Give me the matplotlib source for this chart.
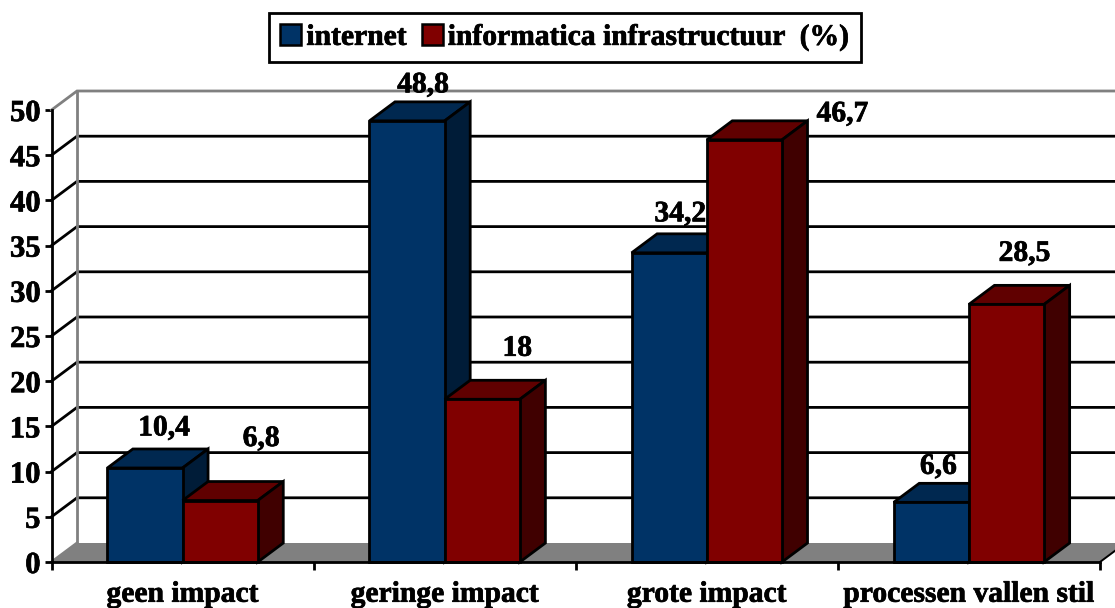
import matplotlib
matplotlib.use("Agg")
import matplotlib.pyplot as plt
from matplotlib.patches import Polygon, Patch
import matplotlib.patheffects as pe
import numpy as np

categories = ["geen impact", "geringe impact", "grote impact", "processen vallen stil"]
internet = [10.4, 48.8, 34.2, 6.6]
informatica = [6.8, 18, 46.7, 28.5]
internet_labels = ["10,4", "48,8", "34,2", "6,6"]
informatica_labels = ["6,8", "18", "46,7", "28,5"]
series_names = ["internet", "informatica infrastructuur  (%)"]
y_ticks = list(range(0, 51, 5))

# label offsets from the bar's top centre, in pixels
internet_off = [(19, 40), (16, 36), (11, 39), (7, 36)]
informatica_off = [(41, 62), (35, 51), (98, 26), (18, 51)]

W, H = 1115, 608
FS = 21.3
plt.rcParams["font.family"] = ["Liberation Serif", "DejaVu Serif"]
plt.rcParams["font.weight"] = "bold"
fig = plt.figure(figsize=(W / 100, H / 100), dpi=100, facecolor="white")
L, R, T, B = 51.5, 1100, 110, 562
ax = fig.add_axes([L / W, 1 - B / H, (R - L) / W, (B - T) / H])
ax.set_xlim(0, 4)
ax.set_ylim(0, 50)
ax.patch.set_visible(False)

dx = 25.5 / ((R - L) / 4)
dy = 19 / ((B - T) / 50)
xedge = 4.2
GRAY = "#808080"
LW = 2.0
heavy = [pe.withStroke(linewidth=0.5, foreground="black")]

# floor
ax.add_patch(Polygon([(0, 0), (dx, dy), (4 + dx, dy), (4, 0)], closed=True, fc=GRAY, ec="none", zorder=1, clip_on=False))
ax.plot([0, dx], [0, dy], color=GRAY, lw=LW, zorder=1.5, clip_on=False)
ax.plot([4, 4 + dx], [0, dy], color="black", lw=1.4, zorder=1.5, clip_on=False)

# walls and gridlines
for v in y_ticks[1:]:
    c = GRAY if v == 50 else "black"
    ax.plot([0, dx, xedge], [v, v + dy, v + dy], color=c, lw=LW, zorder=2, clip_on=False, solid_joinstyle="miter")
ax.plot([dx, dx], [dy, 50 + dy], color=GRAY, lw=LW, zorder=2.5, clip_on=False)

# bars
bw = 75.2 / ((R - L) / 4)
styles = [("#003366", "#002850", "#001c38"), ("#800000", "#600000", "#400000")]
z = 3
for i in range(4):
    for s, (vals, labs, offs) in enumerate([(internet, internet_labels, internet_off),
                                            (informatica, informatica_labels, informatica_off)]):
        v = vals[i]
        x0 = i + 0.5 - bw + s * bw
        x1 = x0 + bw
        front, top, side = styles[s]
        ax.add_patch(Polygon([(x0, v), (x0 + dx, v + dy), (x1 + dx, v + dy), (x1, v)], closed=True,
                             fc=top, ec="black", lw=LW, zorder=z, joinstyle="miter", clip_on=False))
        ax.add_patch(Polygon([(x1, 0), (x1 + dx, dy), (x1 + dx, v + dy), (x1, v)], closed=True,
                             fc=side, ec="black", lw=LW, zorder=z, joinstyle="miter", clip_on=False))
        ax.bar(x0, v, width=bw, align="edge", color=front, edgecolor="black", linewidth=LW, zorder=z + 0.1, clip_on=False)
        z += 0.2
        ann = ax.annotate(labs[i], xy=(x0 + bw / 2, v), xytext=offs[i], textcoords="offset pixels",
                          ha="center", va="center", fontsize=FS, fontweight="bold", color="black",
                          zorder=20, annotation_clip=False)
        ann.set_path_effects(heavy)

# axes
for sp in ("top", "right"):
    ax.spines[sp].set_visible(False)
for sp in ("left", "bottom"):
    ax.spines[sp].set_linewidth(LW)
    ax.spines[sp].set_zorder(2.8)
ax.spines["bottom"].set_zorder(10)
ax.set_yticks(y_ticks)
ax.set_yticklabels([str(v) for v in y_ticks], fontsize=FS + 0.7, fontweight="bold")
ax.tick_params(axis="y", length=5, width=LW, pad=3)
ax.set_xticks(np.arange(5))
ax.set_xticklabels([])
ax.tick_params(axis="x", which="major", length=6, width=LW)
ax.set_xticks(np.arange(4) + 0.5, minor=True)
ax.set_xticklabels(categories, minor=True, fontsize=FS, fontweight="bold")
ax.tick_params(axis="x", which="minor", length=0, pad=13.5)
for t in ax.get_yticklabels() + ax.get_xticklabels(minor=True):
    t.set_path_effects(heavy)

# legend
handles = [Patch(facecolor="#003366", edgecolor="black", linewidth=1.8, label=series_names[0]),
           Patch(facecolor="#800000", edgecolor="black", linewidth=1.8, label=series_names[1])]
leg = fig.legend(handles=handles, ncol=2, loc="center", bbox_to_anchor=(565 / W, 1 - 37.5 / H),
                 frameon=True, fancybox=False, edgecolor="black", framealpha=1,
                 prop={"family": "Liberation Serif", "weight": "bold", "size": FS},
                 handlelength=0.71, handleheight=0.71, handletextpad=0.17, columnspacing=0.5,
                 borderpad=0.37, borderaxespad=0)
leg.get_frame().set_linewidth(LW)
for t in leg.get_texts():
    t.set_path_effects(heavy)

fig.savefig("out.png", dpi=100)
